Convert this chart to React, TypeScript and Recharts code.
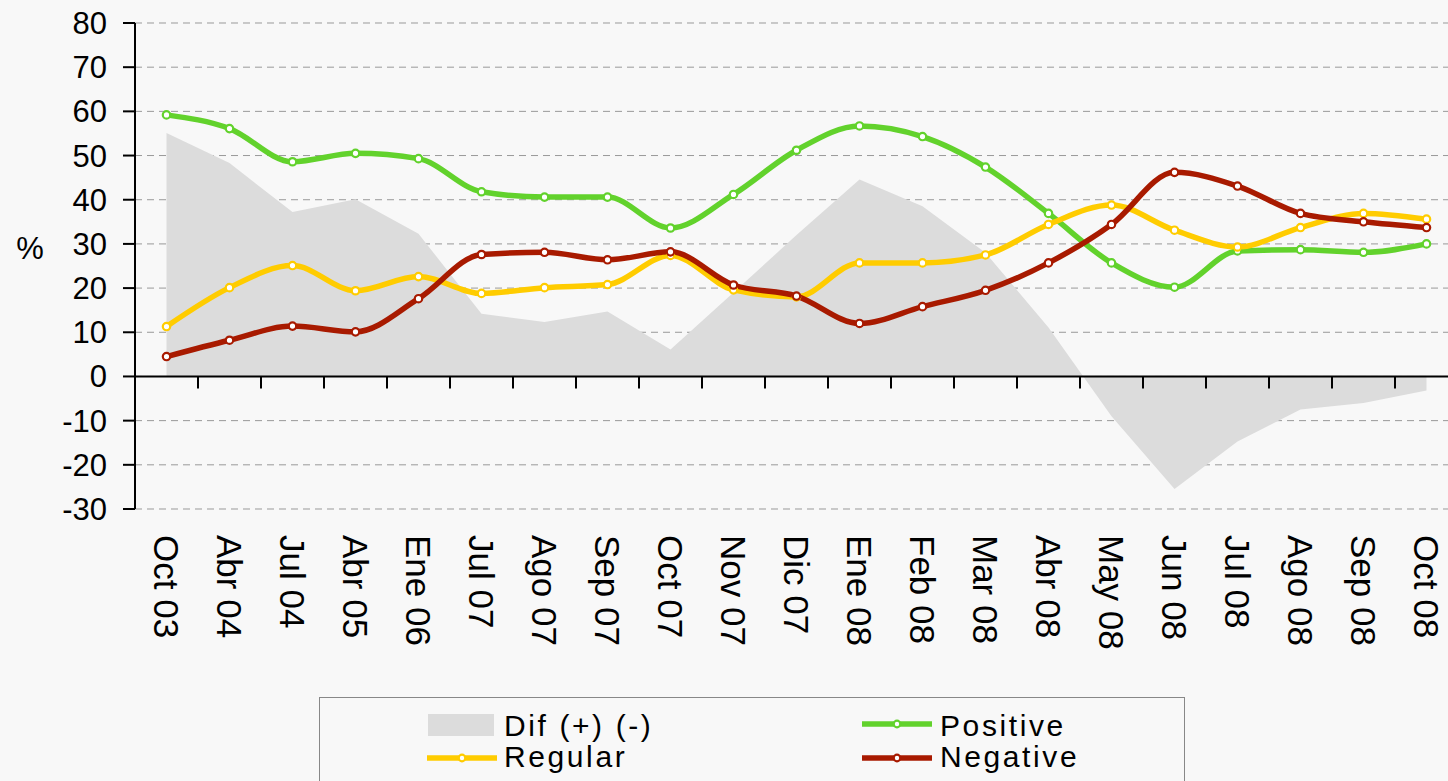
import {
  ComposedChart, Area, Line, XAxis, YAxis, CartesianGrid, ReferenceLine, Legend,
} from 'recharts'

// ─── Data ────────────────────────────────────────────────────────────────────
const MONTHS = [
  'Oct 03', 'Abr 04', 'Jul 04', 'Abr 05', 'Ene 06', 'Jul 07', 'Ago 07', 'Sep 07',
  'Oct 07', 'Nov 07', 'Dic 07', 'Ene 08', 'Feb 08', 'Mar 08', 'Abr 08', 'May 08',
  'Jun 08', 'Jul 08', 'Ago 08', 'Sep 08', 'Oct 08',
]
const POSITIVE = [59.2, 56.1, 48.6, 50.5, 49.3, 41.8, 40.6, 40.6, 33.6, 41.2, 51.2, 56.7, 54.3, 47.4, 36.9, 25.7, 20.2, 28.4, 28.7, 28.1, 30.0]
const REGULAR = [11.3, 20.1, 25.1, 19.4, 22.6, 18.8, 20.1, 20.8, 27.4, 19.6, 18.0, 25.7, 25.7, 27.5, 34.4, 38.8, 33.1, 29.3, 33.7, 36.9, 35.6]
const NEGATIVE = [4.5, 8.2, 11.4, 10.1, 17.6, 27.6, 28.1, 26.4, 28.2, 20.7, 18.2, 12.0, 15.8, 19.5, 25.7, 34.4, 46.2, 43.1, 36.9, 35.0, 33.7]
const DIF = [55.1, 48.3, 37.2, 40.1, 32.3, 14.2, 12.3, 14.7, 6.1, 19.0, 32.0, 44.6, 38.5, 28.0, 11.1, -9.0, -25.5, -14.7, -7.5, -6.0, -3.2]
const Y_TICKS = [-30, -20, -10, 0, 10, 20, 30, 40, 50, 60, 70, 80]

const data = MONTHS.map((month, i) => ({
  month,
  dif: DIF[i],
  positive: POSITIVE[i],
  regular: REGULAR[i],
  negative: NEGATIVE[i],
}))

// ─── Styles ──────────────────────────────────────────────────────────────────
const FONT = '"Liberation Sans", Arial, Helvetica, sans-serif'
const BG = '#F8F8F8'
const GREEN = '#62D22C'
const YELLOW = '#FFCC00'
const RED = '#A81A00'
const AREA_FILL = '#DCDCDC'
const GRID = '#999999'

// the page keeps its default 8px margin otherwise
document.body.style.margin = '0'
document.body.style.overflow = 'hidden'
document.body.style.background = BG

function MonthTick({ x, y, payload }: any) {
  const ty = y + 26
  return (
    <text
      x={x}
      y={ty}
      transform={`rotate(90, ${x}, ${ty})`}
      textAnchor="start"
      dominantBaseline="central"
      fontSize={35}
      fontFamily={FONT}
      fill="#000"
    >
      {payload.value}
    </text>
  )
}

// zero line doubles as the category axis, ticks sit between the categories
function ZeroAxis(props: any) {
  const { x1, x2, y1 } = props
  const step = (x2 - x1) / MONTHS.length
  return (
    <g>
      <line x1={x1} x2={x2} y1={y1} y2={y1} stroke="#000" strokeWidth={2} />
      {MONTHS.map((m, i) => (
        <line
          key={m}
          x1={x1 + step * (i + 1)}
          x2={x1 + step * (i + 1)}
          y1={y1}
          y2={y1 + 12}
          stroke="#000"
          strokeWidth={2}
        />
      ))}
    </g>
  )
}

function PercentLabel({ viewBox }: any) {
  return (
    <text
      x={viewBox.x + 30}
      y={viewBox.y + 225}
      textAnchor="middle"
      dominantBaseline="central"
      fontSize={31}
      fontFamily={FONT}
      fill="#000"
    >
      %
    </text>
  )
}

function LineSwatch({ color }: { color: string }) {
  return (
    <svg width={70} height={12} style={{ display: 'block' }}>
      <line x1={0} x2={70} y1={6} y2={6} stroke={color} strokeWidth={5.5} />
      <circle cx={35} cy={6} r={3.3} fill="#fff" stroke={color} strokeWidth={2.2} />
    </svg>
  )
}

const LEGEND_TEXT = {
  position: 'absolute' as const,
  fontSize: 30,
  letterSpacing: 2.6,
  lineHeight: '30px',
  height: 30,
  color: '#000',
  whiteSpace: 'nowrap' as const,
}

function LegendBox() {
  return (
    <div
      style={{
        position: 'relative',
        width: 866,
        height: 100,
        boxSizing: 'border-box',
        border: '1px solid #888',
        background: BG,
        fontFamily: FONT,
      }}
    >
      <div style={{ position: 'absolute', left: 108, top: 16, width: 66, height: 22, background: AREA_FILL }} />
      <div style={{ ...LEGEND_TEXT, left: 184, top: 13 }}>Dif (+) (-)</div>
      <div style={{ position: 'absolute', left: 542, top: 20 }}><LineSwatch color={GREEN} /></div>
      <div style={{ ...LEGEND_TEXT, left: 620, top: 13 }}>Positive</div>
      <div style={{ position: 'absolute', left: 107, top: 54 }}><LineSwatch color={YELLOW} /></div>
      <div style={{ ...LEGEND_TEXT, left: 184, top: 44 }}>Regular</div>
      <div style={{ position: 'absolute', left: 542, top: 54 }}><LineSwatch color={RED} /></div>
      <div style={{ ...LEGEND_TEXT, left: 620, top: 44 }}>Negative</div>
    </div>
  )
}

const dot = (color: string) => ({ r: 3.7, fill: '#fff', stroke: color, strokeWidth: 2.2 })

export default function App() {
  return (
    <div
      style={{
        width: 1448,
        height: 781,
        overflow: 'hidden',
        position: 'relative',
        background: BG,
      }}
    >
      <ComposedChart
        width={1470}
        height={800}
        data={data}
        margin={{ top: 23, right: 12, bottom: 0, left: 0 }}
      >
        <CartesianGrid vertical={false} stroke={GRID} strokeDasharray="7 5" />
        <XAxis
          dataKey="month"
          scale="band"
          interval={0}
          axisLine={false}
          tickLine={false}
          tickSize={0}
          tickMargin={0}
          tick={<MonthTick />}
          height={191}
        />
        <YAxis
          domain={[-30, 80]}
          ticks={Y_TICKS}
          interval={0}
          width={135}
          axisLine={{ stroke: '#000', strokeWidth: 2 }}
          tickLine={{ stroke: '#000', strokeWidth: 2 }}
          tickSize={12}
          tickMargin={16}
          tick={{ fontSize: 31, fill: '#000', fontFamily: FONT }}
          label={{ content: PercentLabel }}
        />
        <Area
          dataKey="dif"
          type="linear"
          fill={AREA_FILL}
          fillOpacity={1}
          stroke="none"
          dot={false}
          activeDot={false}
          isAnimationActive={false}
        />
        <ReferenceLine y={0} shape={ZeroAxis} />
        <Line dataKey="positive" type="monotone" stroke={GREEN} strokeWidth={5.5} dot={dot(GREEN)} activeDot={false} isAnimationActive={false} />
        <Line dataKey="regular" type="monotone" stroke={YELLOW} strokeWidth={5.5} dot={dot(YELLOW)} activeDot={false} isAnimationActive={false} />
        <Line dataKey="negative" type="monotone" stroke={RED} strokeWidth={5.5} dot={dot(RED)} activeDot={false} isAnimationActive={false} />
        <Legend
          verticalAlign="bottom"
          content={LegendBox}
          wrapperStyle={{ left: 319, top: 697, bottom: 'auto', width: 866, height: 100 }}
        />
      </ComposedChart>
    </div>
  )
}
